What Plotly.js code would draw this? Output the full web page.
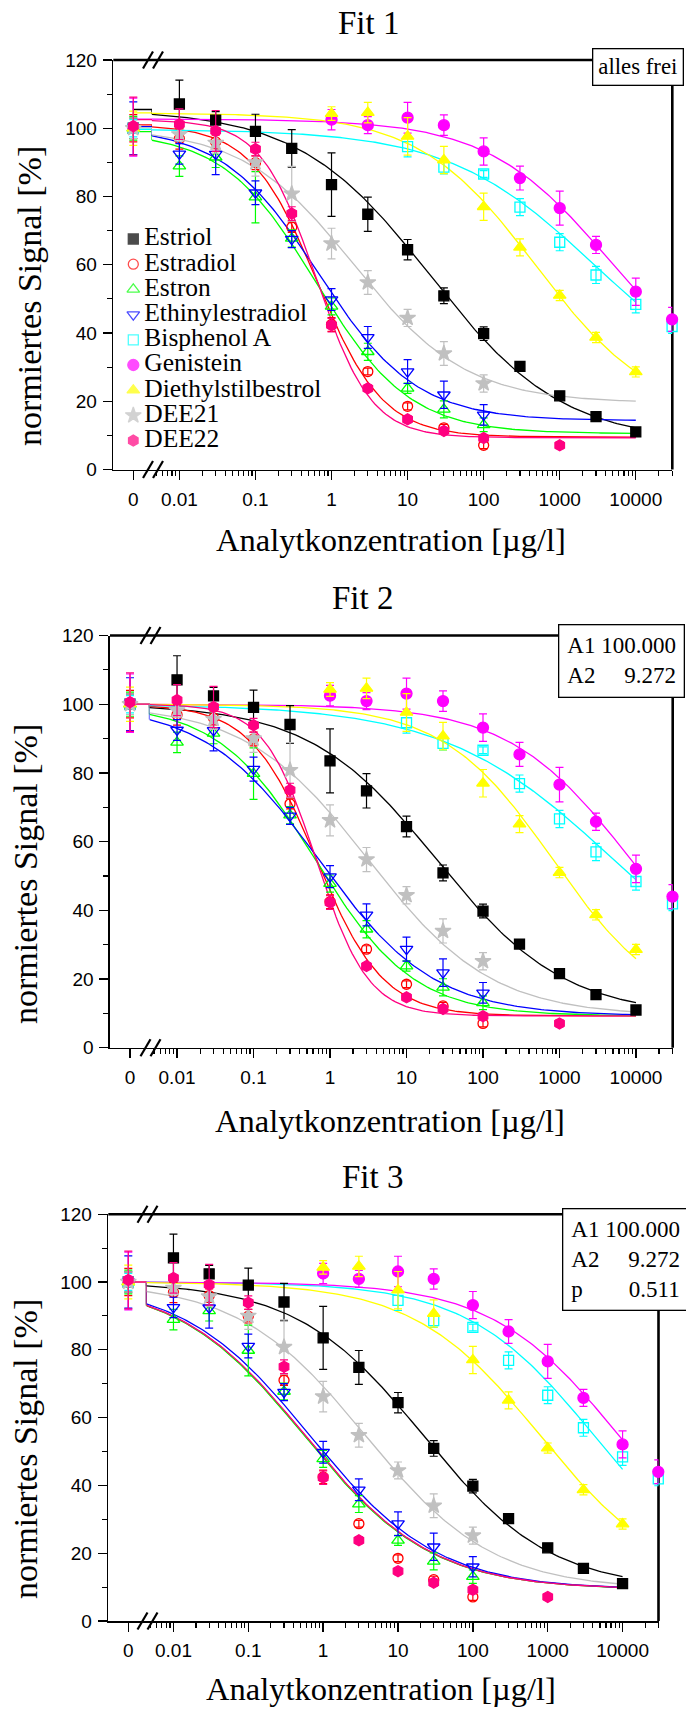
<!DOCTYPE html>
<html><head><meta charset="utf-8">
<script src="https://cdn.plot.ly/plotly-3.0.1.min.js"></script>
<style>html,body{margin:0;padding:0;background:#fff}#chart{width:686px;height:1711px}</style>
</head><body><div id="chart"></div>
<script>
// ---------------- data ----------------
const compounds = ['Estriol','Estradiol','Estron','Ethinylestradiol','Bisphenol A','Genistein','Diethylstilbestrol','DEE21','DEE22'];
const concentrations = [0, 0.01, 0.03, 0.1, 0.3, 1, 3, 10, 30, 100, 300, 1000, 3000, 10000, 30000];
const xTickValues = [0.01, 0.1, 1, 10, 100, 1000, 10000];
const xTickLabels = ['0.01','0.1','1','10','100','1000','10000'];
const zeroTickLabel = ['0'];
const yTickValues = [0, 20, 40, 60, 80, 100, 120];
const panelTitles = ['Fit 1','Fit 2','Fit 3'];
const xTitle = 'Analytkonzentration [µg/l]';
const yTitle = 'normiertes Signal [%]';

const signalEstriol   = [100, 107.1, 102.4, 99.1, 94.1, 83.5, 74.8, 64.4, 50.9, 39.8, 30.2, 21.6, 15.5, 11.0, null];
const signalEstradiol = [100, 96.9, 96.0, 89.9, 71.0, 42.5, 28.7, 18.5, 12.2, 7.1, null, null, null, null, null];
const signalEstron    = [100, 88.9, 91.5, 79.8, 67.7, 47.8, 34.5, 23.8, 17.6, 13.1, null, null, null, null, null];
const signalEthinyl   = [100, 92.5, 92.4, 81.1, 67.5, 49.8, 38.7, 28.7, 21.9, 16.0, null, null, null, null, null];
const signalBisphenol = [100, null, null, null, null, null, null, 94.6, 88.6, 86.6, 76.9, 66.6, 57.0, 48.4, 41.9];
const signalGenistein = [100.3, null, null, null, null, 102.5, 100.9, 103.1, 100.9, 93.2, 85.4, 76.6, 65.8, 52.1, 44.0];
const signalDES       = [100, null, null, null, null, 104.3, 104.6, 97.6, 90.7, 77.0, 65.1, 51.0, 38.7, 28.6, null];
const signalDEE21     = [100, 98.2, 95.7, 90.0, 80.8, 66.2, 54.8, 44.4, 34.0, 25.2, null, null, null, null, null];
const signalDEE22     = [100.6, 101.2, 99.2, 93.9, 75.0, 42.3, 23.8, 14.7, 11.3, 9.2, null, 7.1, null, null, null];

const errEstriol   = [3, 7, 2.5, 5, 5.5, 9.3, 5, 3, 2.3, 2, 1, 1, 1, 1, null];
const errEstradiol = [4, 3, 2, 2, 1.5, 2, 1, 1, 1, 1, null, null, null, null, null];
const errEstron    = [3.5, 3, 3, 7.5, 2.5, 2.5, 2.5, 1.5, 2.5, 2, null, null, null, null, null];
const errEthinyl   = [7.7, 3, 6, 3.5, 2.5, 3.2, 3.2, 3.5, 4, 3, null, null, null, null, null];
const errBisphenol = [2.5, null, null, null, null, null, null, 3, 2, 1, 2.5, 2.5, 2.5, 2.5, 2];
const errGenistein = [8.5, null, null, null, null, 3, 2.5, 4.5, 3, 4, 3.5, 5, 2.5, 4, 3.5];
const errDES       = [5, null, null, null, null, 2, 3, 5.5, 4, 4, 2.5, 1.5, 1.5, 1.5, null];
const errDEE21     = [3, 2, 3, 4, 8, 4.5, 3.5, 2.5, 3.5, 2.5, null, null, null, null, null];
const errDEE22     = [8.5, 4.5, 6, 2, 2, 2, 1, 1, 1, 1, null, 1, null, null, null];

// fit parameters: y = A2 + (A1-A2)/(1+(x/x0)^p)
const fit1A1 = [105.5, 101, 99, 100.5, 99.7, 102.7, 104.5, 100.2, 102.5];
const fit1A2 = [8, 9.5, 10.5, 14.3, 20, 20, 15, 19.5, 9.3];
const fit1X0 = [20, 0.64, 0.63, 0.68, 2900, 4500, 485, 2.0, 0.63];
const fit1P  = [0.5, 1.0, 0.71, 0.68, 0.45, 0.54, 0.566, 0.59, 1.2];
const fit2A1 = 100, fit2A2 = 9.272;
const fit2X0 = [25, 0.67, 0.65, 0.72, 5200, 8700, 830, 3.2, 0.66];
const fit2P  = [0.52, 1.0, 0.68, 0.58, 0.39, 0.54, 0.6, 0.54, 1.28];
const fit3A1 = 100, fit3A2 = 9.272, fit3P = 0.511;
const fit3X0 = [22, 0.57, 0.56, 0.67, 4200, 9000, 800, 3.7, 0.58];
const fitBoxTexts = ['alles frei',
  'A1 100.000<br>A2 \u00a0\u00a0\u00a0\u00a09.272',
  'A1 100.000<br>A2 \u00a0\u00a0\u00a0\u00a09.272<br>p \u00a0\u00a0\u00a0\u00a0\u00a0\u00a0\u00a00.511'];

// ---------------- styles ----------------
const colors  = ['#000000','#FF0000','#00FF00','#0000FF','#00FFFF','#FF00FF','#FFFF00','#C0C0C0','#FF0080'];
const symbols = ['square','circle-open','triangle-up-open','triangle-down-open','square-open','circle','triangle-up','star','hexagon'];
const sizes   = [10, 10, 11, 11, 10, 11, 11, 12, 11];

const signals = [signalEstriol, signalEstradiol, signalEstron, signalEthinyl, signalBisphenol, signalGenistein, signalDES, signalDEE21, signalDEE22];
const errors  = [errEstriol, errEstradiol, errEstron, errEthinyl, errBisphenol, errGenistein, errDES, errDEE21, errDEE22];
const fits = [
  compounds.map((_, i) => ({A1: fit1A1[i], A2: fit1A2[i], x0: fit1X0[i], p: fit1P[i]})),
  compounds.map((_, i) => ({A1: fit2A1, A2: fit2A2, x0: fit2X0[i], p: fit2P[i]})),
  compounds.map((_, i) => ({A1: fit3A1, A2: fit3A2, x0: fit3X0[i], p: fit3P}))
];
function logistic(x, f) { return f.A2 + (f.A1 - f.A2) / (1 + Math.pow(x / f.x0, f.p)); }

const W = 686, H = 1711;
const px = x => x / W;
const py = y => 1 - y / H;
const panels = [
  {L:113.3, B:152.0, R:672.3, top:60.0,   bottom:469.5, title:[369, 23.5],   xt:[391, 540],  yt:[29, 296],  box:[637.5, 67]},
  {L:110.0, B:149.5, R:672.7, top:635.5,  bottom:1047.8, title:[362, 598.3], xt:[390, 1121], yt:[26, 874],  box:[621.3, 660.5]},
  {L:108.3, B:146.5, R:658.5, top:1214.2, bottom:1621.0, title:[372, 1176.7], xt:[381, 1689], yt:[25, 1449], box:[625, 1259]}
];
const logRange = [-2.36, 4.48];
const curveEndLog = 4;
const curveX = Array.from({length: 181}, (_, j) => Math.pow(10, logRange[0] + j * (curveEndLog - logRange[0]) / 180));

const minorVals = [];
for (let e = -3; e <= 4; e++) for (let d = 2; d <= 9; d++) {
  const v = d * Math.pow(10, e);
  if (Math.log10(v) > logRange[0] && Math.log10(v) < logRange[1]) minorVals.push(v);
}

const tickFont = {family: 'Liberation Sans, Arial, sans-serif', size: 19, color: '#000'};
const serif = 'Liberation Serif, Times New Roman, serif';

const traces = [];
const layout = {
  width: W, height: H, margin: {l:0, r:0, t:0, b:0},
  paper_bgcolor: '#fff', plot_bgcolor: 'rgba(0,0,0,0)',
  showlegend: false, hovermode: false,
  font: {family: serif, color: '#000'},
  shapes: [], annotations: []
};

panels.forEach((P, k) => {
  const xa = k === 0 ? 'x' : 'x' + (2*k + 1);
  const xb = 'x' + (2*k + 2);
  const ya = k === 0 ? 'y' : 'y' + (k + 1);
  const xaName = 'xaxis' + (k === 0 ? '' : (2*k + 1));
  const xbName = 'xaxis' + (2*k + 2);
  const yaName = 'yaxis' + (k === 0 ? '' : (k + 1));
  const zeroMax = (P.B - P.L - 20) / 20;

  const axisCommon = {showline: true, linecolor: '#000', linewidth: 1.6, ticks: 'outside', ticklen: 9,
    tickwidth: 1.3, tickcolor: '#000', showgrid: false, zeroline: false, tickfont: tickFont, fixedrange: true,
    ticklabelstandoff: 3};
  layout[xaName] = Object.assign({}, axisCommon, {domain: [px(P.L), px(P.B)], range: [-1, zeroMax], anchor: ya,
    tickmode: 'array', tickvals: [0], ticktext: zeroTickLabel});
  layout[xbName] = Object.assign({}, axisCommon, {type: 'log', domain: [px(P.B), px(P.R)], range: logRange, anchor: ya,
    tickmode: 'array', tickvals: xTickValues, ticktext: xTickLabels,
    minor: {tickmode: 'array', tickvals: minorVals, ticks: 'outside', ticklen: 5, tickwidth: 1.1, tickcolor: '#000', showgrid: false}});
  layout[yaName] = Object.assign({}, axisCommon, {domain: [py(P.bottom), py(P.top)], range: [0, 120], anchor: xa,
    tickmode: 'array', tickvals: yTickValues, ticklabelstandoff: 2,
    minor: {tickmode: 'array', tickvals: [10, 30, 50, 70, 90, 110], ticks: 'outside', ticklen: 5, tickwidth: 1.1, tickcolor: '#000', showgrid: false}});

  // fit curves
  compounds.forEach((name, i) => {
    const f = fits[k][i];
    traces.push({type: 'scatter', mode: 'lines', xaxis: xa, yaxis: ya,
      x: [0, zeroMax, zeroMax], y: [f.A1, f.A1, logistic(curveX[0], f)],
      line: {color: colors[i], width: 1.3}, hoverinfo: 'skip'});
    traces.push({type: 'scatter', mode: 'lines', xaxis: xb, yaxis: ya,
      x: curveX, y: curveX.map(x => logistic(x, f)),
      line: {color: colors[i], width: 1.3}, hoverinfo: 'skip'});
  });
  // data points
  compounds.forEach((name, i) => {
    const mk = {symbol: symbols[i], size: sizes[i], color: colors[i], line: {color: colors[i], width: 1.3}};
    const eb = (arr) => ({type: 'data', array: arr, visible: true, color: colors[i], thickness: 1.2, width: 4});
    const zx = [], zy = [], ze = [], lx = [], ly = [], le = [];
    concentrations.forEach((c, j) => {
      const v = signals[i][j];
      if (v === null) return;
      if (c === 0) { zx.push(c); zy.push(v); ze.push(errors[i][j]); }
      else { lx.push(c); ly.push(v); le.push(errors[i][j]); }
    });
    traces.push({type: 'scatter', mode: 'markers', name, xaxis: xa, yaxis: ya, x: zx, y: zy, marker: mk, error_y: eb(ze), cliponaxis: false});
    traces.push({type: 'scatter', mode: 'markers', name, xaxis: xb, yaxis: ya, x: lx, y: ly, marker: mk, error_y: eb(le), cliponaxis: false});
  });

  // thick top and right frame lines
  layout.shapes.push({type: 'line', layer: 'below', xref: 'paper', yref: 'paper', x0: px(P.L), x1: px(P.R), y0: py(P.top), y1: py(P.top), line: {color: '#000', width: 2.6}});
  layout.shapes.push({type: 'line', layer: 'below', xref: 'paper', yref: 'paper', x0: px(P.R), x1: px(P.R), y0: py(P.bottom), y1: py(P.top), line: {color: '#000', width: 2.6}});
  // axis break marks
  [P.top, P.bottom].forEach(yy => {
    [[-9, 1], [1, 11]].forEach(([a, b]) => {
      layout.shapes.push({type: 'line', xref: 'paper', yref: 'paper', x0: px(P.B + a), x1: px(P.B + b), y0: py(yy + 8.5), y1: py(yy - 8.5), line: {color: '#000', width: 2.2}});
    });
  });

  // titles
  layout.annotations.push({text: panelTitles[k], xref: 'paper', yref: 'paper', x: px(P.title[0]), y: py(P.title[1]), xanchor: 'center', yanchor: 'middle', showarrow: false, font: {family: serif, size: 33, color: '#000'}});
  layout.annotations.push({text: xTitle, xref: 'paper', yref: 'paper', x: px(P.xt[0]), y: py(P.xt[1]), xanchor: 'center', yanchor: 'middle', showarrow: false, font: {family: serif, size: 32.5, color: '#000'}});
  layout.annotations.push({text: yTitle, textangle: -90, xref: 'paper', yref: 'paper', x: px(P.yt[0]), y: py(P.yt[1]), xanchor: 'center', yanchor: 'middle', showarrow: false, font: {family: serif, size: 34, color: '#000'}});
  // parameter box
  const boxFont = k === 0 ? 22.8 : 23;
  layout.annotations.push({text: fitBoxTexts[k], align: 'left', xref: 'paper', yref: 'paper', x: px(P.box[0]), y: py(P.box[1]), xanchor: 'center', yanchor: 'middle', showarrow: false,
    font: {family: serif, size: boxFont, color: '#000'}, bgcolor: '#fff', bordercolor: '#000', borderwidth: 1.3, borderpad: k === 0 ? 5 : 8});
});

// legend (panel 1), drawn on its own hidden axes from the compound list
const legendIdx = compounds.map((_, i) => i);
layout.xaxis7 = {domain: [px(120), px(340)], range: [-1.33, 20.67], visible: false, anchor: 'y4', fixedrange: true};
layout.yaxis4 = {domain: [py(453.2), py(226.4)], range: [8.5, -0.5], visible: false, anchor: 'x7', fixedrange: true};
traces.push({type: 'scatter', mode: 'markers', xaxis: 'x7', yaxis: 'y4', x: legendIdx.map(() => 0), y: legendIdx,
  marker: {symbol: symbols, size: sizes, color: colors, line: {color: colors, width: 1.3}}, hoverinfo: 'skip'});
traces.push({type: 'scatter', mode: 'text', xaxis: 'x7', yaxis: 'y4', x: legendIdx.map(() => 1.1), y: legendIdx,
  text: compounds, textposition: 'middle right', textfont: {family: serif, size: 25.5, color: '#000'}, hoverinfo: 'skip'});

Plotly.newPlot('chart', traces, layout, {staticPlot: true, displayModeBar: false});
</script>
</body></html>
